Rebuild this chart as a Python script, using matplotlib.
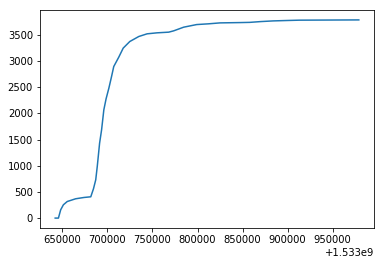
import matplotlib
matplotlib.use("Agg")
import matplotlib.pyplot as plt


# timestamps (seconds since epoch) and cumulative counts
timestamps = [
    1533642000, 1533645600, 1533648100, 1533651100, 1533655400, 1533664700,
    1533674000, 1533681500, 1533684500, 1533687000, 1533688700, 1533691300,
    1533693500, 1533696000, 1533698500, 1533701600, 1533704500, 1533707000,
    1533712600, 1533717500, 1533724800, 1533734800, 1533744000, 1533755000,
    1533768000, 1533773500, 1533784600, 1533799000, 1533812000, 1533825000,
    1533847000, 1533858000, 1533870000, 1533884000, 1533900000, 1533913000,
    1533979000,
]
counts = [
    0, 0, 158, 254, 317, 369,
    394, 407, 560, 731, 986, 1432,
    1686, 2069, 2280, 2484, 2700, 2896,
    3076, 3248, 3374, 3470, 3521, 3540,
    3553, 3578, 3648, 3698, 3712, 3730,
    3736, 3740, 3755, 3768, 3776, 3782,
    3787,
]


def main():
    fig = plt.figure(figsize=(384 / 72, 265 / 72), dpi=72)
    ax = fig.add_axes([40 / 384, 1 - 228 / 265, 334 / 384, 218 / 265])
    ax.plot(timestamps, counts, color="#1f77b4")
    ax.set_xticks([1533650000, 1533700000, 1533750000, 1533800000,
                   1533850000, 1533900000, 1533950000])
    ax.set_yticks([0, 500, 1000, 1500, 2000, 2500, 3000, 3500])
    fig.savefig("out.png", dpi=72)
    plt.close(fig)


if __name__ == "__main__":
    main()
